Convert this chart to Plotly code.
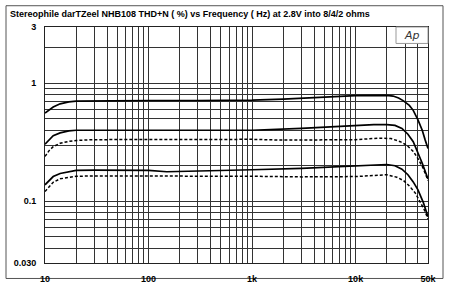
import math
import plotly.graph_objects as go

# ---- data ----
title_text = "Stereophile darTZeel NHB108 THD+N ( %) vs Frequency ( Hz) at 2.8V into 8/4/2 ohms"

x_tick_vals = [10, 100, 1000, 10000, 50000]
x_tick_text = ["10", "100", "1k", "10k", "50k"]
y_tick_vals = [0.03, 0.1, 1, 3]
y_tick_text = ["0.030", "0.1", "1", "3"]

f_a = [10, 11, 12, 14, 17, 20, 30, 50, 100, 300, 1000, 2000, 5000, 10000, 20000, 23000, 26000, 29000, 33000, 36000, 40000, 44000, 47000, 50000]
v_a = [0.56, 0.60, 0.63, 0.67, 0.695, 0.705, 0.71, 0.712, 0.715, 0.715, 0.72, 0.735, 0.765, 0.785, 0.79, 0.78, 0.75, 0.71, 0.65, 0.59, 0.49, 0.40, 0.33, 0.28]

f_b = [10, 11, 12, 14, 17, 20, 30, 100, 300, 1000, 3000, 5000, 10000, 15000, 20000, 24000, 28000, 32000, 36000, 40000, 44000, 50000]
v_b = [0.305, 0.33, 0.36, 0.38, 0.395, 0.40, 0.40, 0.398, 0.398, 0.40, 0.415, 0.425, 0.44, 0.447, 0.447, 0.44, 0.415, 0.37, 0.32, 0.26, 0.21, 0.155]

f_c = [10, 11, 12, 14, 17, 20, 30, 100, 200, 500, 1000, 2000, 5000, 10000, 17000, 22000, 27000, 31000, 36000, 40000, 45000, 50000]
v_c = [0.24, 0.27, 0.29, 0.31, 0.322, 0.328, 0.333, 0.333, 0.336, 0.336, 0.335, 0.33, 0.33, 0.333, 0.343, 0.34, 0.32, 0.30, 0.265, 0.23, 0.19, 0.15]

f_d = [10, 11, 12, 14, 17, 20, 30, 100, 150, 300, 1000, 3000, 10000, 20000, 24000, 28000, 32000, 36000, 40000, 45000, 50000]
v_d = [0.138, 0.15, 0.162, 0.172, 0.179, 0.183, 0.184, 0.183, 0.178, 0.18, 0.185, 0.19, 0.198, 0.205, 0.20, 0.187, 0.168, 0.146, 0.125, 0.098, 0.074]

f_e = [10, 11, 12, 14, 17, 20, 30, 100, 300, 1000, 3000, 10000, 20000, 25000, 29000, 33000, 37600, 42000, 46000, 50000]
v_e = [0.121, 0.133, 0.145, 0.155, 0.16, 0.163, 0.164, 0.164, 0.165, 0.163, 0.161, 0.162, 0.168, 0.16, 0.15, 0.135, 0.118, 0.10, 0.085, 0.071]

# ---- grid positions (1..9 per decade) ----
x_grid = [m * 10 ** d for d in range(1, 5) for m in range(1, 10) if m * 10 ** d <= 50000]
y_grid = [m * 10 ** d for d in range(-2, 1) for m in range(1, 10) if 0.03 <= m * 10 ** d <= 3.0001]

def labels(grid, vals, texts):
    out = []
    for g in grid:
        t = ""
        for v, s in zip(vals, texts):
            if abs(g - v) / v < 1e-6:
                t = s
        out.append(t)
    return out

x_text = labels(x_grid, x_tick_vals, x_tick_text)
y_text = labels(y_grid, y_tick_vals, y_tick_text)

fig = go.Figure()
series = [(f_a, v_a, "solid"), (f_b, v_b, "solid"), (f_c, v_c, "3px,2px"),
          (f_d, v_d, "solid"), (f_e, v_e, "3px,2px")]
for f, v, dash in series:
    fig.add_trace(go.Scatter(x=f, y=v, mode="lines",
                             line=dict(color="black", width=1.7 if dash == "solid" else 1.5, dash=dash),
                             hoverinfo="skip", showlegend=False))

L, R, T, B = 45, 22, 27, 25
W, H = 450, 296
pw, ph = W - L - R, H - T - B

def px_x(p):
    return (p - L) / pw

def px_y(p):
    return (H - B - p) / ph

tick_font = dict(family="Liberation Sans, Arial, sans-serif", size=9, color="black", weight="bold")

fig.update_layout(
    width=W, height=H,
    margin=dict(l=L, r=R, t=T, b=B),
    paper_bgcolor="white", plot_bgcolor="white",
    showlegend=False,
    xaxis=dict(type="log", range=[1, math.log10(50000)],
               tickmode="array", tickvals=x_grid, ticktext=x_text,
               showgrid=True, gridcolor="#333333", gridwidth=1,
               showline=True, linecolor="#222", linewidth=1, mirror=True,
               ticks="", tickfont=tick_font, ticklabelstandoff=7, zeroline=False),
    yaxis=dict(type="log", range=[math.log10(0.03), math.log10(3)],
               tickmode="array", tickvals=y_grid, ticktext=y_text,
               showgrid=True, gridcolor="#333333", gridwidth=1,
               showline=True, linecolor="#222", linewidth=1, mirror=True,
               ticks="", tickfont=tick_font, ticklabelstandoff=6, zeroline=False),
    shapes=[
        dict(type="rect", xref="paper", yref="paper",
             x0=px_x(6), x1=px_x(443), y0=px_y(287), y1=px_y(5),
             line=dict(color="#555", width=1), fillcolor="rgba(0,0,0,0)", layer="below"),
        dict(type="rect", xref="paper", yref="paper",
             x0=px_x(396), x1=1, y0=px_y(44), y1=1,
             line=dict(color="#999", width=1), fillcolor="white", layer="above"),
    ],
    annotations=[
        dict(text=title_text, xref="paper", yref="paper", x=px_x(8), y=px_y(14),
             xanchor="left", yanchor="middle", showarrow=False,
             font=dict(family="Liberation Sans, Arial, sans-serif", size=9, color="black", weight="bold")),
        dict(text="<i>Ap</i>", xref="paper", yref="paper", x=px_x(412), y=px_y(36),
             xanchor="center", yanchor="middle", showarrow=False,
             font=dict(family="DejaVu Sans, sans-serif", size=11, color="#333")),
    ],
)

fig.write_html("out.html")
